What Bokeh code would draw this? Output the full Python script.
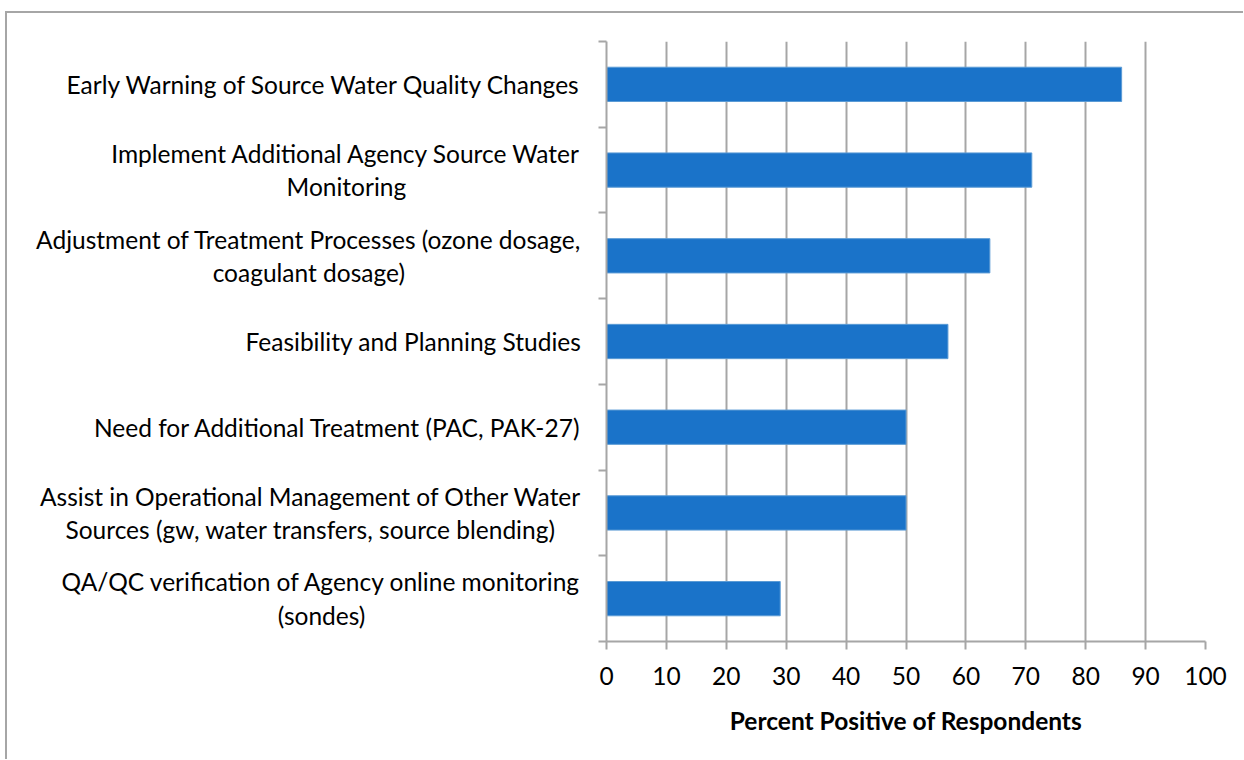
from bokeh.plotting import figure
from bokeh.models import FixedTicker, ColumnDataSource, Range1d
from bokeh.layouts import row
from bokeh.core.properties import value
from bokeh.embed import file_html
from bokeh.resources import INLINE

categories = [
    "Early Warning of Source Water Quality Changes",
    "Implement Additional Agency Source Water\nMonitoring",
    "Adjustment of Treatment Processes (ozone dosage,\ncoagulant dosage)",
    "Feasibility and Planning Studies",
    "Need for Additional Treatment (PAC, PAK-27)",
    "Assist in Operational Management of Other Water\nSources (gw, water transfers, source blending)",
    "QA/QC verification of Agency online monitoring\n(sondes)",
]
values = [86, 71, 64, 57, 50, 50, 29]
x_ticks = [0, 10, 20, 30, 40, 50, 60, 70, 80, 90, 100]
x_title = "Percent Positive of Respondents"

n = len(categories)
ypos = [n - i - 0.5 for i in range(n)]
src = ColumnDataSource(dict(y=ypos, v=values, label=categories))

FONT = "Lato"
FS = "24.5px"
GRAY = "#a6a6a6"
H = 746
LEFT_W = 579

yr = Range1d(0, n)

# --- label panel (category names, centred lines, right-aligned block) ---
pl = figure(width=LEFT_W, height=H, output_backend="svg", toolbar_location=None,
            x_range=Range1d(0, 1), y_range=yr, x_axis_type=None, y_axis_type=None,
            min_border_left=0, min_border_right=0, min_border_top=28, min_border_bottom=118)
pl.outline_line_color = None
pl.grid.grid_line_color = None
pl.text(x=1, y="y", text="label", source=src, anchor=value("center_right"),
        text_align=value("center"), text_baseline=value("middle"), x_offset=-5,
        text_font=value(FONT), text_font_size=value(FS), text_color="black",
        text_line_height=1.15)

# --- bar chart ---
p = figure(width=1236 - LEFT_W, height=H, output_backend="svg", toolbar_location=None,
           x_range=(0, 100), y_range=yr,
           min_border_left=20, min_border_top=28, min_border_right=38, min_border_bottom=118)
p.outline_line_color = None
p.background_fill_color = "white"
p.border_fill_color = "white"

p.hbar(y="y", right="v", left=0, height=0.4, source=src,
       fill_color="#1A73C9", line_color="#5b9bd5", line_width=1)

p.xaxis.ticker = FixedTicker(ticks=x_ticks)
p.xaxis.axis_label = x_title
p.xaxis.axis_label_text_font = FONT
p.xaxis.axis_label_text_font_style = "bold"
p.xaxis.axis_label_text_font_size = FS
p.xaxis.axis_label_text_color = "black"
p.xaxis.axis_label_standoff = 18
p.xaxis.major_label_text_font = FONT
p.xaxis.major_label_text_font_size = FS
p.xaxis.major_label_text_color = "black"
p.xaxis.major_label_standoff = 17
p.xaxis.axis_line_color = GRAY
p.xaxis.axis_line_width = 2
p.xaxis.major_tick_line_color = GRAY
p.xaxis.major_tick_line_width = 2
p.xaxis.major_tick_out = 8
p.xaxis.major_tick_in = 0
p.xaxis.minor_tick_line_color = None

p.yaxis.ticker = FixedTicker(ticks=[], minor_ticks=list(range(0, n + 1)))
p.yaxis.minor_tick_line_color = GRAY
p.yaxis.minor_tick_line_width = 2
p.yaxis.minor_tick_out = 8
p.yaxis.minor_tick_in = 0
p.yaxis.major_tick_out = 8
p.yaxis.major_label_standoff = 0
p.yaxis.axis_line_color = GRAY
p.yaxis.axis_line_width = 2

p.ygrid.grid_line_color = None
p.xgrid.ticker = FixedTicker(ticks=x_ticks)
p.xgrid.grid_line_color = GRAY
p.xgrid.grid_line_width = 2

layout = row(pl, p)
layout.styles = {"border-left": "2px solid #a6a6a6", "border-top": "2px solid #a6a6a6",
                 "margin-left": "5px", "margin-top": "11px"}

open("out.html", "w").write(file_html(layout, INLINE))
